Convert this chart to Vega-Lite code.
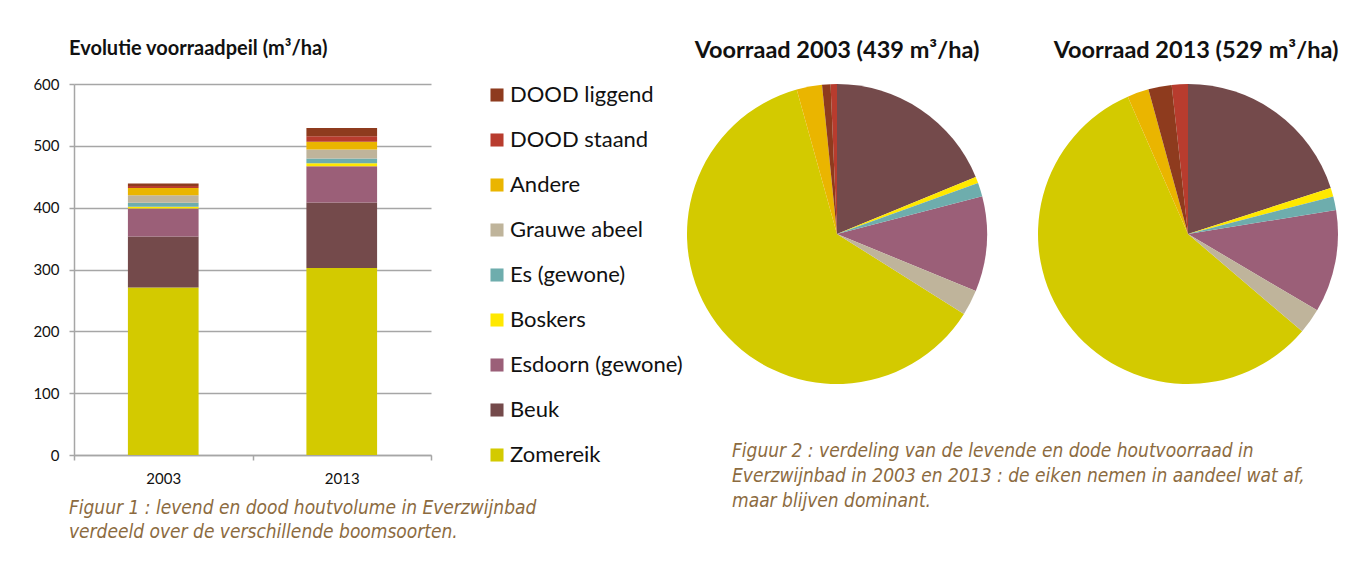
{
  "$schema": "https://vega.github.io/schema/vega-lite/v6.json",
  "padding": {"left": 32, "top": 38, "right": 0, "bottom": 0},
  "background": "white",
  "config": {
    "font": "Lato",
    "view": {"stroke": null},
    "axis": {"domainColor": "#A6A6A6", "gridColor": "#A6A6A6", "tickColor": "#A6A6A6", "labelColor": "#111111", "labelFont": "Lato", "labelFontSize": 15, "domainWidth": 1.5, "gridWidth": 1.5, "tickWidth": 1.5, "tickSize": 5}
  },
  "datasets": {
    "voorraad": [
      {"jaar": "2003", "soort": "Zomereik", "volume": 271},
      {"jaar": "2003", "soort": "Beuk", "volume": 82.5},
      {"jaar": "2003", "soort": "Esdoorn (gewone)", "volume": 45},
      {"jaar": "2003", "soort": "Boskers", "volume": 3},
      {"jaar": "2003", "soort": "Es (gewone)", "volume": 6.5},
      {"jaar": "2003", "soort": "Grauwe abeel", "volume": 12},
      {"jaar": "2003", "soort": "Andere", "volume": 12},
      {"jaar": "2003", "soort": "DOOD staand", "volume": 3},
      {"jaar": "2003", "soort": "DOOD liggend", "volume": 4},
      {"jaar": "2013", "soort": "Zomereik", "volume": 302.5},
      {"jaar": "2013", "soort": "Beuk", "volume": 106},
      {"jaar": "2013", "soort": "Esdoorn (gewone)", "volume": 58.5},
      {"jaar": "2013", "soort": "Boskers", "volume": 5},
      {"jaar": "2013", "soort": "Es (gewone)", "volume": 7.7},
      {"jaar": "2013", "soort": "Grauwe abeel", "volume": 14.5},
      {"jaar": "2013", "soort": "Andere", "volume": 12.3},
      {"jaar": "2013", "soort": "DOOD staand", "volume": 9.2},
      {"jaar": "2013", "soort": "DOOD liggend", "volume": 13.3}
    ]
  },
  "resolve": {"scale": {"color": "independent"}},
  "spacing": 4,
  "hconcat": [
    {
      "title": {"text": ["Figuur 1 : levend en dood houtvolume in Everzwijnbad", "verdeeld over de verschillende boomsoorten."], "orient": "bottom", "anchor": "start", "font": "DejaVu Sans Condensed", "fontStyle": "italic", "fontWeight": "normal", "fontSize": 19, "lineHeight": 24, "color": "#8C6B3F", "offset": 13, "dx": 36},
      "vconcat": [
        {
          "title": {"text": "Evolutie voorraadpeil (m³/ha)", "anchor": "start", "frame": "group", "fontSize": 20, "fontWeight": "bold", "color": "#111111", "offset": 18, "dx": -5},
          "width": 357,
          "height": 371,
          "data": {"name": "voorraad"},
          "transform": [{"calculate": "indexof(['Zomereik', 'Beuk', 'Esdoorn (gewone)', 'Boskers', 'Es (gewone)', 'Grauwe abeel', 'Andere', 'DOOD staand', 'DOOD liggend'], datum.soort)", "as": "stapel"}],
          "mark": {"type": "bar", "width": {"band": 0.396}},
          "encoding": {
            "x": {"field": "jaar", "type": "ordinal", "title": null, "scale": {"paddingInner": 0, "paddingOuter": 0}, "axis": {"labelAngle": 0, "tickBand": "extent", "labelPadding": 11, "domain": true}},
            "y": {"field": "volume", "type": "quantitative", "stack": "zero", "title": null, "scale": {"domain": [0, 600]}, "axis": {"values": [0, 100, 200, 300, 400, 500, 600], "labelPadding": 10, "grid": true}},
            "order": {"field": "stapel", "type": "quantitative", "sort": "ascending"},
            "color": {
              "field": "soort", "type": "nominal",
              "scale": {"domain": ["Zomereik", "Beuk", "Esdoorn (gewone)", "Boskers", "Es (gewone)", "Grauwe abeel", "Andere", "DOOD staand", "DOOD liggend"], "range": ["#D3CA00", "#744A4B", "#9B5F78", "#FFE800", "#6EADAD", "#BFB49B", "#EAB500", "#B83C2E", "#8E3B1E"]},
              "legend": {"title": null, "values": ["DOOD liggend", "DOOD staand", "Andere", "Grauwe abeel", "Es (gewone)", "Boskers", "Esdoorn (gewone)", "Beuk", "Zomereik"], "symbolType": "square", "symbolSize": 170, "symbolStrokeWidth": 0, "labelFontSize": 22, "labelFont": "Lato", "labelColor": "#111111", "rowPadding": 23, "offset": 54, "padding": 0, "labelOffset": 2, "labelLimit": 300}
            }
          }
        }
      ]
    },
    {
      "title": {"text": ["Figuur 2 : verdeling van de levende en dode houtvoorraad in", "Everzwijnbad in 2003 en 2013 : de eiken nemen in aandeel wat af,", "maar blijven dominant."], "orient": "bottom", "anchor": "start", "font": "DejaVu Sans Condensed", "fontStyle": "italic", "fontWeight": "normal", "fontSize": 19, "lineHeight": 25, "color": "#8C6B3F", "offset": 58, "dx": 45},
      "spacing": 51,
      "hconcat": [
        {
          "title": {"text": "Voorraad 2003 (439 m³/ha)", "fontSize": 23.5, "fontWeight": "bold", "color": "#111111", "offset": 19, "dy": -3},
          "width": 300, "height": 300,
          "data": {"name": "voorraad"},
          "transform": [
            {"filter": "datum.jaar == '2003'"},
            {"calculate": "indexof(['Beuk', 'Boskers', 'Es (gewone)', 'Esdoorn (gewone)', 'Grauwe abeel', 'Zomereik', 'Andere', 'DOOD liggend', 'DOOD staand'], datum.soort)", "as": "taart"}
          ],
          "mark": {"type": "arc"},
          "encoding": {
            "theta": {"field": "volume", "type": "quantitative", "stack": true},
            "order": {"field": "taart", "type": "quantitative", "sort": "ascending"},
            "color": {
              "field": "soort", "type": "nominal",
              "scale": {"domain": ["Zomereik", "Beuk", "Esdoorn (gewone)", "Boskers", "Es (gewone)", "Grauwe abeel", "Andere", "DOOD staand", "DOOD liggend"], "range": ["#D3CA00", "#744A4B", "#9B5F78", "#FFE800", "#6EADAD", "#BFB49B", "#EAB500", "#B83C2E", "#8E3B1E"]},
              "legend": null
            }
          }
        },
        {
          "title": {"text": "Voorraad 2013 (529 m³/ha)", "fontSize": 23.5, "fontWeight": "bold", "color": "#111111", "offset": 19, "dx": 8, "dy": -3},
          "width": 300, "height": 300,
          "data": {"name": "voorraad"},
          "transform": [
            {"filter": "datum.jaar == '2013'"},
            {"calculate": "indexof(['Beuk', 'Boskers', 'Es (gewone)', 'Esdoorn (gewone)', 'Grauwe abeel', 'Zomereik', 'Andere', 'DOOD liggend', 'DOOD staand'], datum.soort)", "as": "taart"}
          ],
          "mark": {"type": "arc"},
          "encoding": {
            "theta": {"field": "volume", "type": "quantitative", "stack": true},
            "order": {"field": "taart", "type": "quantitative", "sort": "ascending"},
            "color": {
              "field": "soort", "type": "nominal",
              "scale": {"domain": ["Zomereik", "Beuk", "Esdoorn (gewone)", "Boskers", "Es (gewone)", "Grauwe abeel", "Andere", "DOOD staand", "DOOD liggend"], "range": ["#D3CA00", "#744A4B", "#9B5F78", "#FFE800", "#6EADAD", "#BFB49B", "#EAB500", "#B83C2E", "#8E3B1E"]},
              "legend": null
            }
          }
        }
      ]
    }
  ]
}
